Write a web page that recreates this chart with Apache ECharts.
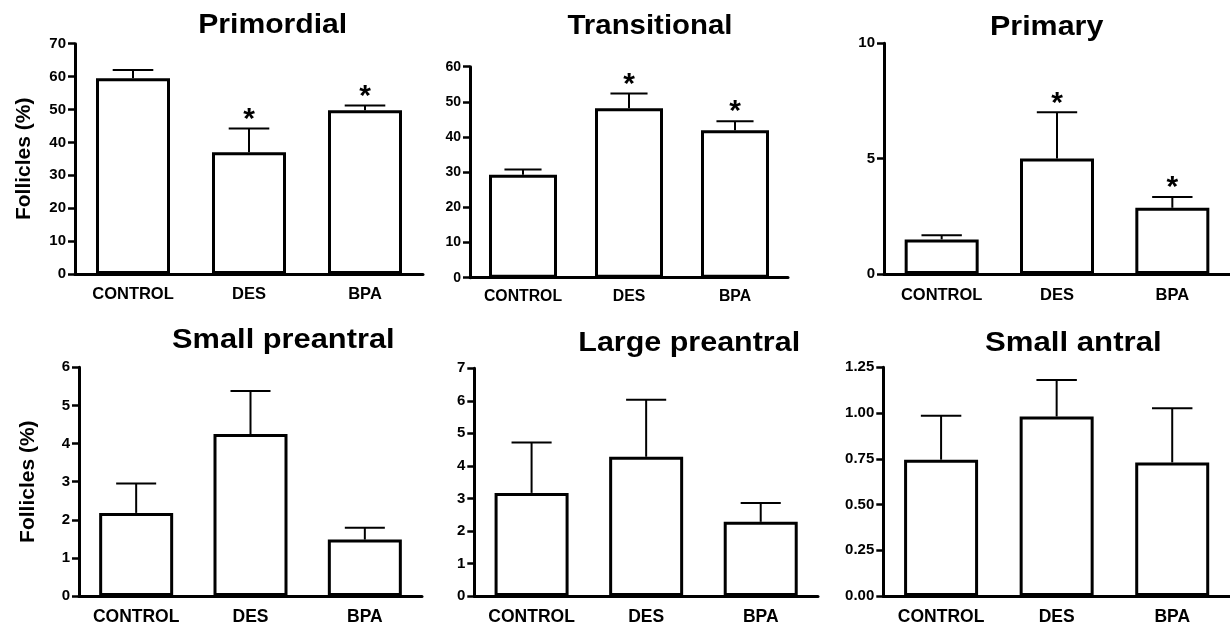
<!DOCTYPE html>
<html>
<head>
<meta charset="utf-8">
<script src="https://cdn.jsdelivr.net/npm/echarts@6/dist/echarts.min.js"></script>
<style>
html,body{margin:0;padding:0;background:#fff;}
#chart{width:1230px;height:626px;}
</style>
</head>
<body>
<div id="chart"></div>
<script>
// ---- data ----
const categories = ['CONTROL', 'DES', 'BPA'];
const panelTitles = ['Primordial', 'Transitional', 'Primary', 'Small preantral', 'Large preantral', 'Small antral'];
const yAxisTitle = 'Follicles (%)';

const primordialMean = [59.5, 37.0, 49.8];
const primordialSem = [2.5, 7.2, 1.4];
const primordialSig = [0, 1, 1];

const transitionalMean = [29.3, 48.2, 41.9];
const transitionalSem = [1.5, 4.2, 2.6];
const transitionalSig = [0, 1, 1];

const primaryMean = [1.50, 5.01, 2.87];
const primarySem = [0.18, 2.00, 0.47];
const primarySig = [0, 1, 1];

const smallPreantralMean = [2.18, 4.25, 1.48];
const smallPreantralSem = [0.77, 1.13, 0.31];
const smallPreantralSig = [0, 0, 0];

const largePreantralMean = [3.17, 4.28, 2.28];
const largePreantralSem = [1.55, 1.75, 0.58];
const largePreantralSig = [0, 0, 0];

const smallAntralMean = [0.745, 0.981, 0.730];
const smallAntralSem = [0.24, 0.20, 0.296];
const smallAntralSig = [0, 0, 0];

const yMax = [70, 60, 10, 6, 7, 1.25];
const yInterval = [10, 10, 5, 1, 1, 0.25];
const yDecimals = [0, 0, 0, 0, 0, 2];

// ---- layout / style ----
const FONT = '"Liberation Sans", Arial, Helvetica, sans-serif';
const grids = [
  {left: 75, top: 43.7, width: 348, height: 230.3},
  {left: 470, top: 66.7, width: 318, height: 211},
  {left: 884, top: 43.3, width: 348, height: 230.7},
  {left: 79, top: 367.3, width: 343, height: 229.4},
  {left: 474.3, top: 368.3, width: 343.7, height: 228.4},
  {left: 883.3, top: 367.3, width: 348, height: 229.4}
];
const barWidths = [74, 68, 74, 74, 74, 74];
const xLabelSize = [16.5, 15.8, 16.5, 17.5, 17.5, 17.5];
const xLabelMargin = [12, 11, 13, 12, 12, 12];
const yLabelSize = [15, 14, 15, 15, 15, 15];
const titlePos = [
  {x: 272.7, y: 25, sx: 1.076},
  {x: 650, y: 26.3, sx: 1.05},
  {x: 1046.7, y: 27.5, sx: 1.087},
  {x: 283.3, y: 340.3, sx: 1.10},
  {x: 689.2, y: 343.7, sx: 1.088},
  {x: 1073.3, y: 343, sx: 1.113}
];
const showYName = [true, false, false, true, false, false];

const means = [primordialMean, transitionalMean, primaryMean, smallPreantralMean, largePreantralMean, smallAntralMean];
const sems = [primordialSem, transitionalSem, primarySem, smallPreantralSem, largePreantralSem, smallAntralSem];
const sigs = [primordialSig, transitionalSig, primarySig, smallPreantralSig, largePreantralSig, smallAntralSig];

const chart = echarts.init(document.getElementById('chart'), null, {renderer: 'canvas', width: 1230, height: 626});

const gridOpt = [], xAxes = [], yAxes = [], series = [], graphics = [];
for (let i = 0; i < 6; i++) {
  gridOpt.push(Object.assign({containLabel: false}, grids[i]));
  xAxes.push({
    type: 'category', gridIndex: i, data: categories,
    axisLine: {show: true, lineStyle: {color: '#000', width: 3}},
    axisTick: {show: false},
    axisLabel: {color: '#000', fontWeight: 'bold', fontSize: xLabelSize[i], fontFamily: FONT, margin: xLabelMargin[i], interval: 0}
  });
  const dec = yDecimals[i];
  yAxes.push({
    type: 'value', gridIndex: i, min: 0, max: yMax[i], interval: yInterval[i],
    name: showYName[i] ? yAxisTitle : '',
    nameLocation: 'middle', nameRotate: 90, nameGap: 40,
    nameTextStyle: {color: '#000', fontWeight: 'bold', fontSize: 21, fontFamily: FONT},
    axisLine: {show: true, lineStyle: {color: '#000', width: 3}},
    axisTick: {show: true, length: 7, lineStyle: {color: '#000', width: 2.5}},
    splitLine: {show: false},
    axisLabel: {color: '#000', fontWeight: 'bold', fontSize: yLabelSize[i], fontFamily: FONT, margin: 9,
      formatter: v => v.toFixed(dec)}
  });
  series.push({
    type: 'bar', xAxisIndex: i, yAxisIndex: i, data: means[i], barWidth: barWidths[i],
    itemStyle: {color: '#fff', borderColor: '#000', borderWidth: 3},
    silent: true, animation: false
  });
  const errData = means[i].map((m, k) => [k, m, m + sems[i][k], sigs[i][k]]);
  series.push({
    type: 'custom', xAxisIndex: i, yAxisIndex: i, data: errData, clip: false, animation: false, silent: true,
    renderItem: function (params, api) {
      const base = api.coord([api.value(0), api.value(1)]);
      const top = api.coord([api.value(0), api.value(2)]);
      const half = api.size([1, 0])[0] * 0.175;
      const children = [
        {type: 'line', shape: {x1: base[0], y1: base[1], x2: top[0], y2: top[1]}, style: {stroke: '#000', lineWidth: 2}},
        {type: 'line', shape: {x1: top[0] - half, y1: top[1], x2: top[0] + half, y2: top[1]}, style: {stroke: '#000', lineWidth: 2}}
      ];
      if (api.value(3)) {
        children.push({type: 'text', x: top[0], y: top[1] - 9,
          style: {text: '*', font: 'bold 30px ' + FONT, fill: '#000', align: 'center', verticalAlign: 'middle'}});
      }
      return {type: 'group', children: children};
    }
  });
  graphics.push({
    type: 'text', x: titlePos[i].x, y: titlePos[i].y, scaleX: titlePos[i].sx,
    style: {text: panelTitles[i], font: 'bold 28px ' + FONT, fill: '#000', align: 'center', verticalAlign: 'middle'}
  });
}

chart.setOption({
  backgroundColor: '#fff',
  animation: false,
  grid: gridOpt,
  xAxis: xAxes,
  yAxis: yAxes,
  series: series,
  graphic: graphics
});
</script>
</body>
</html>
